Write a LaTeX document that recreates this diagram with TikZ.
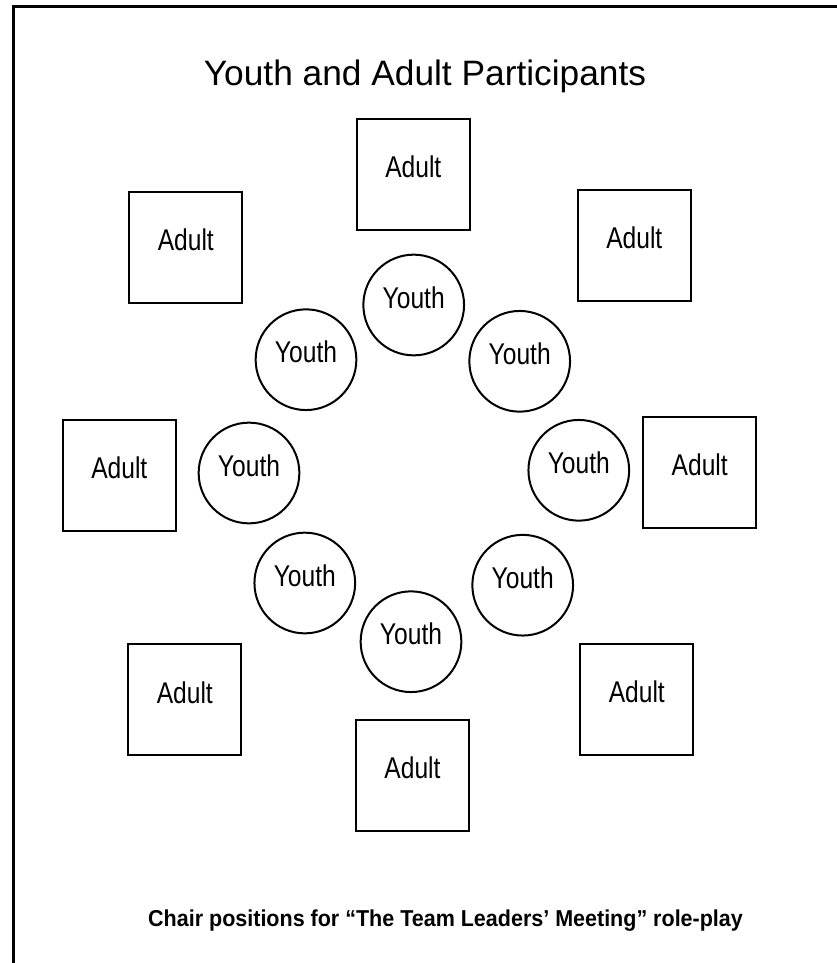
\documentclass[tikz,border=0pt]{standalone}
\usepackage{fontspec}
\setmainfont{Liberation Sans}
\newfontfamily\condfont[FakeStretch=0.82]{Liberation Sans}
\newfontfamily\capfont[FakeStretch=0.935]{Liberation Sans}
\begin{document}
\begin{tikzpicture}[x=1pt,y=-1pt,
  adultbox/.style={draw=black,line width=2pt,rectangle,minimum width=113pt,minimum height=111pt,inner sep=0pt},
  youthseat/.style={draw=black,line width=2pt,circle,minimum size=100.7pt,inner sep=0pt},
  seatlabel/.style={font=\condfont\fontsize{30}{32}\selectfont,yshift=7.5pt,inner sep=0pt}
]
\useasboundingbox (0,0) rectangle (837,963);
\draw[line width=3pt,line join=miter] (13.5,963) -- (13.5,6.2) -- (837,6.2);

\node[font=\fontsize{35.3}{38}\selectfont,anchor=base,inner sep=0pt] (title) at (425,86) {Youth and Adult Participants};

\node[adultbox,label={[seatlabel]center:Adult}] (atop) at (413.3,174.2) {};
\node[adultbox,label={[seatlabel]center:Adult}] (atl) at (185.8,247.5) {};
\node[adultbox,label={[seatlabel]center:Adult}] (atr) at (634.3,245.5) {};
\node[adultbox,label={[seatlabel]center:Adult}] (al) at (119.3,475.3) {};
\node[adultbox,label={[seatlabel]center:Adult}] (ar) at (699.7,472.2) {};
\node[adultbox,label={[seatlabel]center:Adult}] (abl) at (184.8,699.8) {};
\node[adultbox,label={[seatlabel]center:Adult}] (abr) at (636.8,699.3) {};
\node[adultbox,label={[seatlabel]center:Adult}] (ab) at (412.5,775.2) {};

\node[youthseat,label={[seatlabel]center:Youth}] (ytop) at (413.7,305) {};
\node[youthseat,label={[seatlabel]center:Youth}] (yul) at (306,359.7) {};
\node[youthseat,label={[seatlabel]center:Youth}] (yur) at (519.7,361.3) {};
\node[youthseat,label={[seatlabel]center:Youth}] (yl) at (249,473) {};
\node[youthseat,label={[seatlabel]center:Youth}] (yr) at (578.8,470.3) {};
\node[youthseat,label={[seatlabel]center:Youth}] (yll) at (304.8,583) {};
\node[youthseat,label={[seatlabel]center:Youth}] (ylr) at (522.7,585.2) {};
\node[youthseat,label={[seatlabel]center:Youth}] (yb) at (411,641.7) {};

\node[font=\capfont\bfseries\fontsize{23}{26}\selectfont,anchor=base west,inner sep=0pt] (caption) at (148,926.3) {Chair positions for “The Team Leaders’ Meeting” role-play};
\end{tikzpicture}
\end{document}
